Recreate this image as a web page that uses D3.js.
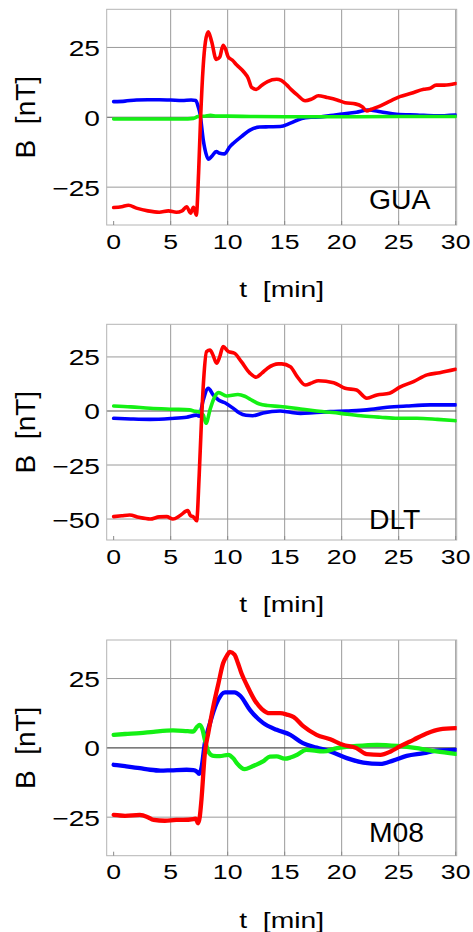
<!DOCTYPE html>
<html>
<head>
<meta charset="utf-8">
<script src="https://cdn.jsdelivr.net/npm/d3@7"></script>
<style>
  html, body { margin: 0; padding: 0; background: #fff; }
  svg { display: block; font-family: "Liberation Sans", Arial, sans-serif; }
  svg text { white-space: pre; }
</style>
</head>
<body>
<svg id="chart" width="473" height="932"></svg>
<script>
// Magnetic field components B [nT] versus time t [min] at three stations.
// Each series is a list of [t, B] readings.

const stations = ["GUA", "DLT", "M08"];
const xTicks = [0, 5, 10, 15, 20, 25, 30];
const yTicksGUA = [-25, 0, 25];
const yTicksDLT = [-50, -25, 0, 25];
const yTicksM08 = [-25, 0, 25];

const guaRed = [[0,-32.3],[0.7,-32.0],[1.3,-31.5],[2,-32.5],[3,-33.5],[4,-34.0],[4.8,-33.5],[5.5,-34.0],[6.0,-33.5],[6.4,-32.0],[6.75,-34.3],[7.0,-32.2],[7.25,-35.0],[7.45,-20],[7.63,0],[7.85,18],[8.05,27],[8.3,30.6],[8.6,27],[9.0,20.7],[9.3,21.5],[9.6,25.8],[9.8,24.5],[10.05,21.6],[10.4,20.5],[10.8,18.7],[11.4,16.3],[11.8,14],[12.1,10.7],[12.5,10.0],[13.0,11.5],[13.5,12.8],[14.3,13.6],[14.7,13.2],[15.2,11.5],[15.6,9.8],[16.1,8.0],[16.8,5.9],[17.4,6.6],[17.95,7.7],[18.7,7.1],[19.6,6.2],[20.3,5.2],[21.2,4.8],[21.8,3.8],[22.2,2.3],[22.6,2.9],[23.4,4.1],[24.3,5.9],[25.1,7.4],[26.1,8.6],[27.2,10.0],[27.7,10.3],[28.3,11.5],[29.0,11.5],[30,12.1]];
const guaBlue = [[0,5.6],[1,5.8],[2,6.2],[3,6.3],[4,6.3],[5,6.2],[6,6.0],[6.8,6.2],[7.2,6.0],[7.4,4],[7.57,1.4],[7.86,-8.1],[8.1,-13],[8.3,-15],[8.6,-14],[9.0,-12.3],[9.3,-12.9],[9.7,-13.1],[10.2,-10.5],[10.5,-9.3],[11.2,-6.9],[12.0,-4.5],[12.8,-3.5],[13.6,-3.4],[14.6,-3.3],[15.5,-2.1],[16.5,-0.4],[17.3,0],[18.1,0.1],[19.0,0.6],[19.85,1.07],[21.3,1.8],[22.3,2.6],[23.4,2.0],[24.8,1.1],[26.6,0.8],[28.3,0.5],[30,0.8]];
const guaGreen = [[0,-0.6],[3,-0.6],[6,-0.6],[7,-0.4],[7.4,0.3],[8,0.4],[8.5,0.7],[9,0.4],[10,0.4],[12,0.3],[15,0.2],[20,0.2],[25,0.3],[30,0.3]];

const dltRed = [[0,-48.9],[0.7,-48.5],[1.4,-48.1],[2.2,-49.2],[3.2,-50],[4.0,-49.0],[4.65,-48.9],[5.2,-50],[5.8,-48.5],[6.5,-46.1],[6.75,-48.5],[6.98,-48.9],[7.28,-50.8],[7.5,-30],[7.7,-5],[7.9,15],[8.15,27.5],[8.45,28.2],[8.7,26],[9.03,22.1],[9.3,25],[9.6,29.8],[10.05,27.5],[10.6,26.7],[11.2,22.8],[11.95,17.5],[12.5,15.6],[13.0,17.5],[13.5,19.8],[14.45,21.8],[14.75,21.8],[15.5,20.5],[16.1,15.9],[16.8,12.0],[17.4,13.0],[17.95,14.0],[19.3,13.1],[20.3,10.5],[21.3,9.7],[22.2,5.9],[23.1,7.4],[24.2,8.2],[25.1,11.0],[26.3,13.6],[27.5,16.7],[28.6,17.7],[30,19.3]];
const dltBlue = [[0,-3.4],[1.5,-3.7],[3.2,-3.9],[5,-3.5],[6.4,-2.9],[7.28,-1.9],[7.5,-2.4],[7.86,5.1],[8.3,10.5],[8.74,7.4],[9.2,5.1],[9.76,3.8],[10.5,1.2],[11.0,-0.8],[11.6,-2.0],[12.2,-2.2],[13.1,-0.9],[14.6,0],[15.5,-0.6],[16.4,-1.1],[17.5,-0.8],[19.0,-0.3],[20.4,0],[22.2,0.5],[24.0,1.7],[25.7,2.3],[27.75,2.8],[30,2.8]];
const dltGreen = [[0,2.3],[1.5,1.9],[3.2,1.25],[5.2,0.8],[6.65,0.5],[7.2,-0.2],[7.45,-0.3],[7.86,-1.9],[8.1,-5.7],[8.45,0.5],[8.74,5.1],[9.2,8.5],[9.9,6.9],[10.9,7.6],[11.5,6.8],[11.95,5.5],[12.8,3.2],[13.5,2.5],[14.6,2.1],[16.4,0.9],[17.8,0],[19.9,-1.1],[21.9,-2.3],[23.4,-2.9],[24.9,-3.4],[26.6,-3.4],[28.4,-3.9],[30,-4.5]];

const m08Red = [[0,-24.2],[1,-24.5],[2.3,-24.2],[3.0,-25],[3.5,-26],[4.5,-26.3],[5.5,-26.0],[6.1,-26],[6.98,-25.7],[7.2,-25.5],[7.4,-27.2],[7.55,-25],[7.7,-18.8],[8.0,-1.9],[8.3,5.3],[8.74,14.9],[9.2,23.4],[9.6,30.5],[9.9,33],[10.2,34.6],[10.6,33.6],[10.9,30.6],[11.2,27],[11.7,22.5],[12.4,17],[13.0,14],[13.7,12.5],[14.6,12.5],[15.2,12.0],[15.8,11.1],[16.6,7.9],[17.8,4.7],[19.0,3.1],[20.1,1.1],[21.3,-0.1],[22.2,-2.3],[23.4,-2.5],[24.3,-1.3],[25.1,0.5],[26.3,2.9],[27.5,5.3],[28.6,6.7],[30,7.1]];
const m08Blue = [[0,-6.1],[1,-6.6],[2.3,-7.3],[3.2,-7.9],[4.1,-8.2],[5,-8.1],[6.4,-7.9],[7.0,-8.0],[7.28,-8.5],[7.5,-9.4],[7.7,-7.3],[8.0,1.7],[8.45,8.9],[9.03,16.1],[9.76,20.0],[10.6,20.0],[11.1,18.8],[11.95,13.7],[13.1,9.0],[14.3,6.5],[15.5,4.7],[16.6,1.7],[17.8,0.1],[19.0,-1.3],[20.45,-3.7],[21.9,-5.3],[23.4,-5.8],[24.5,-4.6],[25.7,-2.9],[27.2,-1.9],[28.3,-1.0],[30,-0.7]];
const m08Green = [[0,4.7],[1,5.0],[2.3,5.3],[3.5,5.8],[5.2,6.3],[6.5,6.0],[6.98,5.9],[7.3,7.5],[7.55,8.3],[7.8,6.5],[8.0,2.9],[8.3,-1.3],[8.74,-2.9],[9.3,-3.0],[10.05,-2.5],[10.5,-3.8],[10.8,-5.5],[11.5,-7.7],[12.1,-6.8],[13.1,-4.9],[13.7,-3.2],[14.3,-3.1],[15.0,-3.9],[15.5,-3.5],[16.1,-2.5],[16.9,-0.7],[18.4,-1.3],[19.6,-0.1],[21.3,0.7],[23.1,1.1],[24.9,0.7],[26.6,-0.1],[28.3,-1.3],[30,-2.2]];

const xLabel = "t  [min]";
const yLabel = "B  [nT]";

// Panel layout: frame top, y domain, tick set, series (drawn blue, green, red)
const panels = [
  { name: stations[0], top: 9.3,   yDomain: [-38.55, 38.65], yTicks: yTicksGUA, series: [guaBlue, guaGreen, guaRed], nameDy: 200, lineW: 3.6 },
  { name: stations[1], top: 324.3, yDomain: [-59.7, 40.1],   yTicks: yTicksDLT, series: [dltBlue, dltGreen, dltRed], nameDy: 205, lineW: 3.6 },
  { name: stations[2], top: 640,   yDomain: [-38.9, 38.9],   yTicks: yTicksM08, series: [m08Blue, m08Green, m08Red], nameDy: 201.7, lineW: 4.3 }
];
const seriesColors = ["#0000ff", "#14f014", "#ff0000"];

const left = 106.7, right = 456.7, plotH = 215.7;
const svg = d3.select("#chart");
const x = d3.scaleLinear().domain([-0.61, 30.09]).range([left, right]);

// Horizontally scaled text helper
function label(g, txt, px, py, size, sx, anchor) {
  return g.append("text")
    .attr("transform", `translate(${px},${py}) scale(${sx},1)`)
    .attr("text-anchor", anchor)
    .attr("font-size", size)
    .attr("fill", "#000")
    .text(txt);
}

panels.forEach((p, i) => {
  const top = p.top, bottom = top + plotH;
  const y = d3.scaleLinear().domain(p.yDomain).range([bottom, top]);
  const g = svg.append("g");

  const clipId = "clip" + i;
  svg.append("clipPath").attr("id", clipId)
    .append("rect").attr("x", left).attr("y", top).attr("width", right - left).attr("height", plotH);

  // vertical grid lines
  g.append("g").selectAll("line").data(xTicks.filter(t => t > 0)).join("line")
    .attr("x1", d => x(d)).attr("x2", d => x(d))
    .attr("y1", top).attr("y2", bottom)
    .attr("stroke", "#9a9a9a").attr("stroke-width", 1);

  // horizontal grid lines
  g.append("g").selectAll("line").data(p.yTicks.filter(v => v !== 0)).join("line")
    .attr("x1", left).attr("x2", right)
    .attr("y1", d => y(d)).attr("y2", d => y(d))
    .attr("stroke", "#9a9a9a").attr("stroke-width", 1);

  // zero line
  g.append("line")
    .attr("x1", left).attr("x2", right)
    .attr("y1", y(0)).attr("y2", y(0))
    .attr("stroke", "#505050").attr("stroke-width", 1.1);

  // frame
  g.append("rect")
    .attr("x", left).attr("y", top).attr("width", right - left).attr("height", plotH)
    .attr("fill", "none").attr("stroke", "#b4b4b4").attr("stroke-width", 1);

  // bottom tick marks
  g.append("g").selectAll("line").data(xTicks).join("line")
    .attr("x1", d => x(d)).attr("x2", d => x(d))
    .attr("y1", bottom).attr("y2", bottom - 4)
    .attr("stroke", "#8a8a8a").attr("stroke-width", 1);

  // data lines
  const line = d3.line().x(d => x(d[0])).y(d => y(d[1])).curve(d3.curveMonotoneX);
  g.append("g").attr("clip-path", `url(#${clipId})`)
    .selectAll("path").data(p.series).join("path")
    .attr("d", line)
    .attr("fill", "none")
    .attr("stroke", (d, k) => seriesColors[k])
    .attr("stroke-width", p.lineW)
    .attr("stroke-linejoin", "round")
    .attr("stroke-linecap", "round");

  // y tick labels
  p.yTicks.forEach(v => {
    label(g, v < 0 ? "\u2212" + Math.abs(v) : String(v), 100, y(v) + 8.5, 22, 1.28, "end");
  });

  // x tick labels
  xTicks.forEach(t => {
    label(g, String(t), x(t), bottom + 23.5, 20.5, 1.3, "middle");
  });

  // axis titles
  label(g, xLabel, (left + right) / 2, bottom + 72.3, 22.3, 1.27, "middle");
  g.append("text")
    .attr("transform", `translate(35,${(top + bottom) / 2}) rotate(-90)`)
    .attr("text-anchor", "middle")
    .attr("font-size", 28)
    .text(yLabel);

  // station name
  label(g, p.name, 369, top + p.nameDy, 27, 1.05, "start");
});
</script>
</body>
</html>
